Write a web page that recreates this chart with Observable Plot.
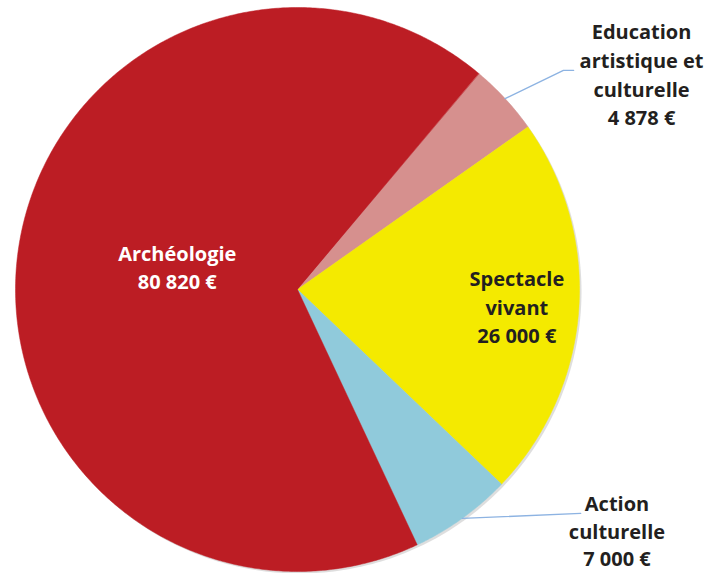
<!DOCTYPE html>
<html>
<head>
<meta charset="utf-8">
<script src="https://cdn.jsdelivr.net/npm/d3@7"></script>
<script src="https://cdn.jsdelivr.net/npm/@observablehq/plot@0.6"></script>
<style>
  html, body { margin: 0; padding: 0; background: #fff; }
  #chart { width: 719px; height: 573px; overflow: hidden; }
</style>
</head>
<body>
<div id="chart"></div>
<script>
// ---- Data ----
const categories = ["Education artistique et culturelle", "Spectacle vivant", "Action culturelle", "Archéologie"];
const values = [4878, 26000, 7000, 80820];
const valueLabels = ["4 878 €", "26 000 €", "7 000 €", "80 820 €"];
const nameLines = ["Education\nartistique et\nculturelle", "Spectacle\nvivant", "Action\nculturelle", "Archéologie"];
const colors = ["#d6908e", "#f4ea00", "#90cadb", "#bc1d24"];
const textColors = ["#231f20", "#231f20", "#231f20", "#ffffff"];

// ---- Layout (unit circle, y down) ----
const startDeg = 40;
const layout = [
  {inside: false, label: [1.22, -0.767], leader: [[0.943, -0.777], [0.979, -0.777]]},
  {inside: true, r: 0.78},
  {inside: false, label: [1.133, 0.852], leader: [[1.004, 0.794]], lh: 1.38},
  {inside: true, r: 0.43, dy: -8}
];

const toRad = d => d * Math.PI / 180;
const pt = (a, r) => [r * Math.sin(a), -r * Math.cos(a)];

const arcs = d3.pie().sort(null).value(d => d)
  .startAngle(toRad(startDeg)).endAngle(toRad(startDeg) + 2 * Math.PI)(values);

function wedge(a0, a1) {
  const n = Math.max(2, Math.ceil((a1 - a0) / toRad(0.5)));
  const ring = [[0, 0]];
  for (let i = 0; i <= n; i++) ring.push(pt(a0 + (a1 - a0) * i / n, 1));
  ring.push([0, 0]);
  return ring;
}

const slices = arcs.map((a, i) => ({
  type: "Feature",
  properties: {name: categories[i], color: colors[i]},
  geometry: {type: "Polygon", coordinates: [wedge(a.startAngle, a.endAngle)]}
}));

const circle = {type: "Polygon", coordinates: [d3.range(0, 361, 1).map(d => pt(toRad(d), 1))]};

const labels = arcs.map((a, i) => {
  const mid = (a.startAngle + a.endAngle) / 2;
  const L = layout[i];
  const [x, y] = L.inside ? pt(mid, L.r) : L.label;
  return {x, y, text: nameLines[i] + "\n" + valueLabels[i], fill: textColors[i], dy: L.dy || 0, lh: L.lh || 1.43};
});

const leaders = arcs.map((a, i) => ({a, L: layout[i]})).filter(d => !d.L.inside).map(({a, L}) => ({
  type: "Feature",
  geometry: {type: "LineString", coordinates: [pt((a.startAngle + a.endAngle) / 2, 1), ...L.leader]}
}));

const domain = {type: "MultiPoint", coordinates: [[-1, -1], [1, 1]]};
const projection = d3.geoIdentity().fitExtent([[15, 7], [579, 571]], domain);

const chart = Plot.plot({
  width: 719,
  height: 573,
  margin: 0,
  projection,
  style: {background: "#fff", overflow: "visible"},
  marks: [
    Plot.geo([circle], {fill: "#c8c8c8", fillOpacity: 0.6, dx: 2, dy: 2}),
    Plot.geo(slices, {fill: d => d.properties.color, stroke: d => d.properties.color, strokeWidth: 0.5}),
    Plot.geo(leaders, {stroke: "#8db3e2", strokeWidth: 1.4, fill: "none"}),
    ...labels.map(l => Plot.text([l], {
      x: "x", y: "y", text: "text", fill: l.fill, dy: l.dy,
      fontSize: 20, fontWeight: 700, fontFamily: "Open Sans",
      lineHeight: l.lh, textAnchor: "middle", lineAnchor: "middle"
    }))
  ]
});

document.getElementById("chart").appendChild(chart);
</script>
</body>
</html>
